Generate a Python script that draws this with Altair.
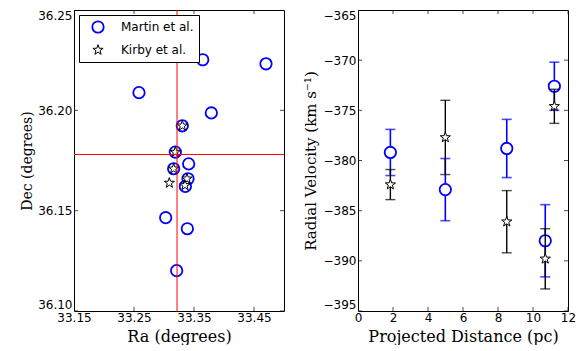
import math
import altair as alt
import pandas as pd

# ---------------- data ----------------
# Left panel: sky positions
martin_ra = [33.3645, 33.4700, 33.2583, 33.3789, 33.3305, 33.3189, 33.3411,
             33.3161, 33.3400, 33.3356, 33.3028, 33.3389, 33.3211]
martin_dec = [36.2252, 36.2232, 36.2088, 36.1987, 36.1923, 36.1792, 36.1733,
              36.1709, 36.1659, 36.1621, 36.1465, 36.1410, 36.1201]
kirby_ra = [33.3305, 33.3189, 33.3161, 33.3383, 33.3350, 33.3089]
kirby_dec = [36.1923, 36.1792, 36.1709, 36.1659, 36.1626, 36.1638]
center_ra = [33.3217]
center_dec = [36.178]

ra_ticks = [33.15, 33.25, 33.35, 33.45]
dec_ticks = [36.10, 36.15, 36.20, 36.25]
ra_domain = [33.15, 33.50]
dec_domain = [36.10, 36.25]

# Right panel: radial velocity vs projected distance
dist = [1.85, 4.99, 8.50, 10.70, 11.22]
martin_rv = [-379.2, -382.9, -378.8, -388.0, -372.6]
martin_err = [2.3, 3.1, 2.9, 3.6, 2.4]
kirby_rv = [-382.4, -377.7, -386.1, -389.8, -374.6]
kirby_err = [1.5, 3.7, 3.1, 3.0, 1.7]

dist_ticks = [0, 2, 4, 6, 8, 10, 12]
rv_ticks = [-365, -370, -375, -380, -385, -390, -395]
dist_domain = [0, 12]
rv_domain = [-395, -365]

sources = ["Martin et al.", "Kirby et al."]

# ---------------- styles ----------------
BLUE = "#0000ff"
pts = []
for i in range(10):
    ang = math.radians(-90 + 36 * i)
    r = 1.0 if i % 2 == 0 else 0.4
    pts.append(f"{r * math.cos(ang):.3f},{r * math.sin(ang):.3f}")
STAR = "M" + "L".join(pts) + "Z"

W, H = 210, 301
TICK_FONT = "DejaVu Sans"
TITLE_FONT = "DejaVu Serif"


def x_axis(title, values, fmt):
    return alt.Axis(title=title, values=values, format=fmt, grid=False, ticks=False,
                    domain=False, labelPadding=1, labelFontSize=12, labelFont=TICK_FONT,
                    labelColor="black", labelFlush=False, labelOverlap=False,
                    titleFont=TITLE_FONT, titleFontSize=16,
                    titleFontWeight="normal", titleColor="black", titlePadding=5)


def y_axis(title, values, fmt, tsize):
    return alt.Axis(title=title, values=values, format=fmt, grid=False, ticks=False,
                    domain=False, labelPadding=2, labelFontSize=12, labelFont=TICK_FONT,
                    labelColor="black", labelFlush=True, minExtent=38, maxExtent=38,
                    titleFont=TITLE_FONT, titleFontSize=tsize, titleFontWeight="normal",
                    titleColor="black", titlePadding=2)


def frame_ticks(xvals, yvals, xs, ys, xdom, ydom, xax, yax):
    xt = pd.DataFrame({"v": xvals})
    yt = pd.DataFrame({"v": yvals})
    layers = []
    for edge in ydom:
        layers.append(alt.Chart(xt).mark_tick(orient="vertical", size=8, thickness=1,
                                              color="black", clip=True).encode(
            x=alt.X("v:Q", scale=xs, axis=xax),
            y=alt.YDatum(edge, scale=ys, axis=yax)))
    for edge in xdom:
        layers.append(alt.Chart(yt).mark_tick(orient="horizontal", size=8, thickness=1,
                                              color="black", clip=True).encode(
            y=alt.Y("v:Q", scale=ys, axis=yax),
            x=alt.XDatum(edge, scale=xs, axis=xax)))
    return layers


# ---------------- left panel ----------------
xs_l = alt.Scale(domain=ra_domain, nice=False, zero=False)
ys_l = alt.Scale(domain=dec_domain, nice=False, zero=False)
xax_l = x_axis("Ra (degrees)", ra_ticks, ".2f")
yax_l = y_axis("Dec (degrees)", dec_ticks, ".2f", 14)

sky = pd.DataFrame({
    "ra": martin_ra + kirby_ra,
    "dec": martin_dec + kirby_dec,
    "src": [sources[0]] * len(martin_ra) + [sources[1]] * len(kirby_ra),
})

points = alt.Chart(sky).mark_point(filled=True, opacity=1).encode(
    x=alt.X("ra:Q", scale=xs_l, axis=xax_l),
    y=alt.Y("dec:Q", scale=ys_l, axis=yax_l),
    shape=alt.Shape("src:N", title=None, scale=alt.Scale(domain=sources, range=["circle", STAR])),
    stroke=alt.Stroke("src:N", title=None, scale=alt.Scale(domain=sources, range=[BLUE, "#000000"])),
    fill=alt.Fill("src:N", title=None, scale=alt.Scale(domain=sources, range=["transparent", "#ffffff"])),
    size=alt.Size("src:N", title=None, scale=alt.Scale(domain=sources, range=[130, 115])),
    strokeWidth=alt.StrokeWidth("src:N", title=None, scale=alt.Scale(domain=sources, range=[1.8, 1.0])),
)

vline = alt.Chart(pd.DataFrame({"ra": center_ra})).mark_rule(
    color="#ff0000", stroke="#ff0000", strokeWidth=1, opacity=1).encode(
    x=alt.X("ra:Q", scale=xs_l, axis=xax_l))
hline = alt.Chart(pd.DataFrame({"dec": center_dec})).mark_rule(
    color="#ff0000", stroke="#ff0000", strokeWidth=1, opacity=1).encode(
    y=alt.Y("dec:Q", scale=ys_l, axis=yax_l))

left = alt.layer(
    points, vline, hline,
    *frame_ticks(ra_ticks, dec_ticks, xs_l, ys_l, ra_domain, dec_domain, xax_l, yax_l)
).properties(width=W, height=H)

# ---------------- right panel ----------------
xs_r = alt.Scale(domain=dist_domain, nice=False, zero=False)
ys_r = alt.Scale(domain=rv_domain, nice=False, zero=False)
xax_r = x_axis("Projected Distance (pc)", dist_ticks, "d")
yax_r = y_axis("Radial Velocity (km s\u207b\u00b9)", rv_ticks, "d", 15)

rv = pd.DataFrame({
    "d": dist,
    "m": martin_rv,
    "m_lo": [v - e for v, e in zip(martin_rv, martin_err)],
    "m_hi": [v + e for v, e in zip(martin_rv, martin_err)],
    "k": kirby_rv,
    "k_lo": [v - e for v, e in zip(kirby_rv, kirby_err)],
    "k_hi": [v + e for v, e in zip(kirby_rv, kirby_err)],
})

base = alt.Chart(rv)
X = alt.X("d:Q", scale=xs_r, axis=xax_r)


def errbars(prefix, color, width):
    bar = base.mark_rule(color=color, strokeWidth=width).encode(
        x=X, y=alt.Y(f"{prefix}_lo:Q", scale=ys_r, axis=yax_r), y2=f"{prefix}_hi:Q")
    lo = base.mark_tick(orient="horizontal", size=10, thickness=width, color=color).encode(
        x=X, y=alt.Y(f"{prefix}_lo:Q", scale=ys_r, axis=yax_r))
    hi = base.mark_tick(orient="horizontal", size=10, thickness=width, color=color).encode(
        x=X, y=alt.Y(f"{prefix}_hi:Q", scale=ys_r, axis=yax_r))
    return [bar, lo, hi]


m_pts = base.mark_point(shape="circle", filled=True, fill="white", stroke=BLUE,
                        strokeWidth=1.8, size=130, opacity=1).encode(
    x=X, y=alt.Y("m:Q", scale=ys_r, axis=yax_r))
k_pts = base.mark_point(shape=STAR, filled=True, fill="white", stroke="black",
                        strokeWidth=1.0, size=115, opacity=1).encode(
    x=X, y=alt.Y("k:Q", scale=ys_r, axis=yax_r))

right = alt.layer(
    *errbars("m", BLUE, 1.6), m_pts,
    *errbars("k", "black", 1.4), k_pts,
    *frame_ticks(dist_ticks, rv_ticks, xs_r, ys_r, dist_domain, rv_domain, xax_r, yax_r)
).properties(width=W, height=H)

chart = alt.hconcat(left, right, spacing=74, bounds="flush").resolve_scale(
    shape="independent", stroke="independent", fill="independent",
    size="independent", strokeWidth="independent"
).properties(
    padding={"left": 11, "top": 0, "right": 0, "bottom": 0}
).configure_view(
    stroke="black", strokeWidth=1
).configure_legend(
    orient="top-left", offset=5, padding=5, strokeColor="black", fillColor="white",
    cornerRadius=0, labelFont=TICK_FONT, labelFontSize=12, labelColor="black",
    symbolOffset=7, labelOffset=16, rowPadding=5
)

chart.save("out.html", embed_options={"renderer": "svg", "actions": False})
